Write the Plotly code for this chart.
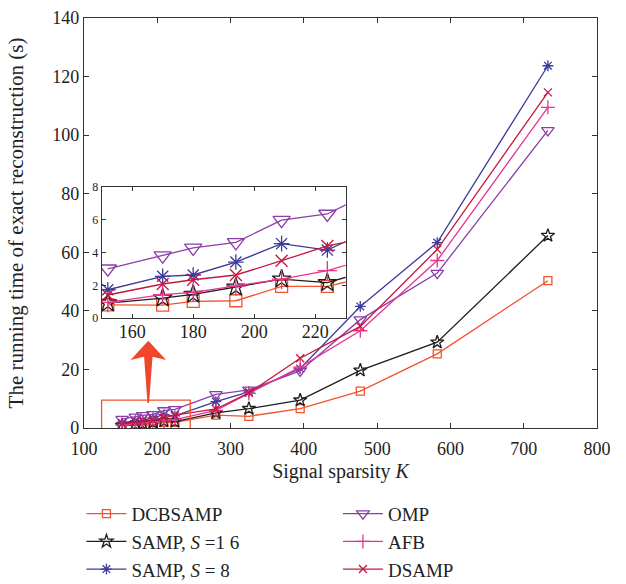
import plotly.graph_objects as go

K = [152, 170, 180, 194, 209, 224, 280, 325, 395, 477, 582, 733]

dcbsamp = [0.81, 0.79, 1.02, 1.06, 1.93, 1.93, 4.4, 4.0, 6.6, 12.6, 25.3, 50.3]
samp16 = [0.92, 1.22, 1.45, 1.89, 2.38, 2.16, 5.2, 6.6, 9.5, 19.7, 29.3, 65.7]
samp8 = [1.73, 2.55, 2.63, 3.42, 4.54, 4.15, 9.0, 12.3, 20.3, 41.5, 63.3, 123.7]
omp = [3.01, 3.81, 4.28, 4.62, 5.97, 6.35, 11.5, 13.0, 19.5, 37.0, 52.9, 101.6]
afb = [0.96, 1.43, 1.57, 1.96, 2.38, 2.89, 6.0, 11.8, 20.8, 33.2, 57.2, 109.5]
dsamp = [1.41, 2.08, 2.34, 2.63, 3.50, 4.40, 6.5, 12.0, 23.8, 34.7, 61.0, 114.6]

names = ["DCBSAMP", "SAMP, <i>S</i> =1 6", "SAMP, <i>S</i> = 8", "OMP", "AFB", "DSAMP"]
series = [dcbsamp, samp16, samp8, omp, afb, dsamp]
colors = ["#f2532b", "#1e1e1e", "#3c3a9a", "#8a3ea8", "#e8338f", "#c4183e"]
symbols = ["square-open", "star-open", "asterisk-open", "triangle-down-open", "cross-thin-open", "x-thin-open"]
msizes = [8, 10, 9, 11, 10, 8]
legends = ["legend", "legend", "legend", "legend2", "legend2", "legend2"]

FONT = "Liberation Serif"
fig = go.Figure()

for nm, ys, c, s, ms, lg in zip(names, series, colors, symbols, msizes, legends):
    fig.add_trace(go.Scatter(
        x=K, y=ys, name=nm, mode="lines+markers",
        line=dict(color=c, width=1.3),
        marker=dict(symbol=s, size=ms, color=c, line=dict(color=c, width=1.3)),
        legend=lg, xaxis="x", yaxis="y"))

for nm, ys, c, s, ms in zip(names, series, colors, symbols, msizes):
    fig.add_trace(go.Scatter(
        x=K, y=ys, name=nm, mode="lines+markers", showlegend=False,
        line=dict(color=c, width=1.3),
        marker=dict(symbol=s, size=ms + 4, color=c, line=dict(color=c, width=1.3)),
        xaxis="x2", yaxis="y2"))

axis_common = dict(showline=True, linecolor="#333", linewidth=1.3, mirror="ticks",
                   ticks="inside", tickcolor="#333", ticklen=5, showgrid=False,
                   zeroline=False, tickfont=dict(family=FONT, size=18, color="#222"))

fig.update_layout(
    width=626, height=584,
    margin=dict(l=84, r=29, t=18, b=156, autoexpand=False),
    paper_bgcolor="white", plot_bgcolor="white",
    font=dict(family=FONT, color="#222"),
    xaxis=dict(range=[100, 800], tickvals=[100, 200, 300, 400, 500, 600, 700, 800],
               title=dict(text="Signal sparsity <i>K</i>", font=dict(family=FONT, size=20), standoff=6),
               ticklabelstandoff=4, automargin=False, **axis_common),
    yaxis=dict(range=[0, 140], tickvals=[0, 20, 40, 60, 80, 100, 120, 140],
               title=dict(text="The running time of exact reconstruction (s)", font=dict(family=FONT, size=21), standoff=22),
               automargin=False, **axis_common),
    xaxis2=dict(domain=[0.0345, 0.510], anchor="y2", range=[150, 230], tickvals=[160, 180, 200, 220],
                showline=True, linecolor="#333", linewidth=1, mirror="ticks", ticks="inside",
                tickcolor="#333", ticklen=4, showgrid=False, zeroline=False, ticklabelstandoff=-3,
                tickfont=dict(family=FONT, size=18, color="#222")),
    yaxis2=dict(domain=[0.268, 0.588], anchor="x2", range=[0, 8], tickvals=[0, 2, 4, 6, 8],
                showline=True, linecolor="#333", linewidth=1, mirror="ticks", ticks="inside",
                tickcolor="#333", ticklen=4, showgrid=False, zeroline=False,
                tickfont=dict(family=FONT, size=12, color="#222")),
    legend=dict(x=-0.005, y=-0.163, xanchor="left", yanchor="top", bgcolor="rgba(0,0,0,0)",
                font=dict(family=FONT, size=19, color="#222"), tracegroupgap=0, itemwidth=40),
    legend2=dict(x=0.495, y=-0.163, xanchor="left", yanchor="top", bgcolor="rgba(0,0,0,0)",
                 font=dict(family=FONT, size=19, color="#222"), tracegroupgap=0, itemwidth=40),
)

# red zoom-region rectangle
fig.add_shape(type="rect", xref="x", yref="y", x0=124, x1=245, y0=-2, y1=9.5,
              line=dict(color="#f2532b", width=1.3), layer="above")
# red arrow
fig.add_shape(type="path", xref="x", yref="y",
              path="M 187.7,29.8 L 212,23.2 L 193.5,24.3 L 188.8,8.5 L 186.6,8.5 L 182,24.3 L 163.5,23.2 Z",
              fillcolor="#f0462a", line=dict(width=0), layer="above")

fig.write_html("out.html")
